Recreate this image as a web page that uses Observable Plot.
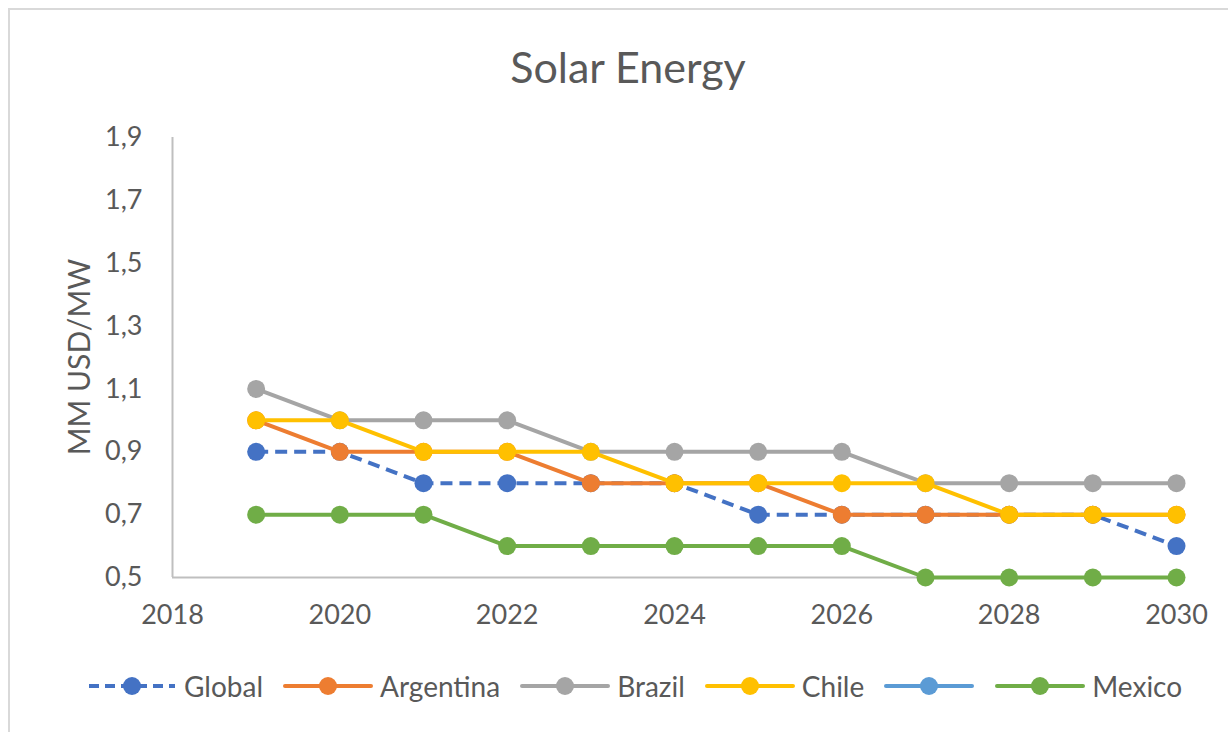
<!DOCTYPE html>
<html><head><meta charset="utf-8">
<script src="https://cdn.jsdelivr.net/npm/d3@7"></script>
<script src="https://cdn.jsdelivr.net/npm/@observablehq/plot@0.6"></script>
<style>
html,body{margin:0;padding:0;background:#fff;width:1228px;height:732px;overflow:hidden;font-family:Lato,"Open Sans",sans-serif;color:#595959;}
#frame{position:absolute;left:8px;top:8px;width:1240px;height:760px;border:2px solid #d9d9d9;box-sizing:border-box;}
#title{position:absolute;left:0;width:1256px;top:39px;text-align:center;font-size:43px;line-height:56px;color:#595959;}
#chart{position:absolute;left:0;top:0;}
#ylabel{position:absolute;left:78px;top:357px;transform:translate(-50%,-50%) rotate(-90deg);font-size:30px;white-space:nowrap;color:#595959;}
#legend{position:absolute;left:86px;top:668px;height:36px;display:flex;align-items:center;font-size:28px;color:#595959;}
#legend .item{display:flex;align-items:center;margin-right:19px;}
#legend .item span{margin-left:6px;}
</style></head><body>
<div id="frame"></div>
<div id="title">Solar Energy</div>
<div id="chart"></div>
<div id="ylabel">MM USD/MW</div>
<div id="legend"></div>
<script>
const years = [2019, 2020, 2021, 2022, 2023, 2024, 2025, 2026, 2027, 2028, 2029, 2030];
const seriesNames = ["Global", "Argentina", "Brazil", "Chile", "", "Mexico"];
const seriesColors = ["#4472C4", "#ED7D31", "#A5A5A5", "#FFC000", "#5B9BD5", "#70AD47"];
const globalValues    = [0.9, 0.9, 0.8, 0.8, 0.8, 0.8, 0.7, 0.7, 0.7, 0.7, 0.7, 0.6];
const argentinaValues = [1.0, 0.9, 0.9, 0.9, 0.8, 0.8, 0.8, 0.7, 0.7, 0.7, 0.7, 0.7];
const brazilValues    = [1.1, 1.0, 1.0, 1.0, 0.9, 0.9, 0.9, 0.9, 0.8, 0.8, 0.8, 0.8];
const chileValues     = [1.0, 1.0, 0.9, 0.9, 0.9, 0.8, 0.8, 0.8, 0.8, 0.7, 0.7, 0.7];
const emptyValues     = [];
const mexicoValues    = [0.7, 0.7, 0.7, 0.6, 0.6, 0.6, 0.6, 0.6, 0.5, 0.5, 0.5, 0.5];
const xTicks = [2018, 2020, 2022, 2024, 2026, 2028, 2030];
const yTicks = [0.5, 0.7, 0.9, 1.1, 1.3, 1.5, 1.7, 1.9];

const allValues = [globalValues, argentinaValues, brazilValues, chileValues, emptyValues, mexicoValues];
const rows = [];
seriesNames.forEach((s, i) => {
  allValues[i].forEach((v, j) => rows.push({series: s, idx: i, year: years[j], value: v}));
});

const W = 1228, H = 640;
const marks = [
  Plot.ruleX([2018], {y1: 0.5, y2: 1.9, stroke: "#bfbfbf", strokeWidth: 2}),
  Plot.ruleY([0.5], {x1: 2018, x2: 2030, stroke: "#bfbfbf", strokeWidth: 2}),
  Plot.axisX({ticks: xTicks, tickSize: 0, tickPadding: 27, tickFormat: d => String(d), fontSize: 27, fill: "#595959", label: null}),
  Plot.axisY({ticks: yTicks, tickSize: 0, tickPadding: 30, tickFormat: d => d3.format(".1f")(d).replace(".", ","), fontSize: 27, fill: "#595959", label: null})
];
seriesNames.forEach((s, i) => {
  const f = d => d.idx === i;
  marks.push(Plot.line(rows, {filter: f, x: "year", y: "value", stroke: seriesColors[i], strokeWidth: 4,
    strokeDasharray: i === 0 ? "12,7" : null, strokeLinecap: i === 0 ? "butt" : "round", strokeLinejoin: "round"}));
  marks.push(Plot.dot(rows, {filter: f, x: "year", y: "value", r: 9, fill: seriesColors[i], stroke: "none"}));
});

const chart = Plot.plot({
  width: W, height: H,
  marginLeft: 172, marginRight: 52, marginTop: 137, marginBottom: H - 577,
  style: {fontFamily: "Lato, 'Open Sans', sans-serif", background: "transparent", overflow: "visible"},
  x: {domain: [2018, 2030]},
  y: {domain: [0.5, 1.9]},
  marks
});
document.getElementById("chart").appendChild(chart);

const legend = document.getElementById("legend");
seriesNames.forEach((s, i) => {
  const item = document.createElement("div");
  item.className = "item";
  const dash = i === 0 ? 'stroke-dasharray="10,6"' : '';
  const cap = i === 0 ? 'butt' : 'round';
  item.innerHTML = `<svg width="92" height="24"><line x1="3" y1="12" x2="89" y2="12" stroke="${seriesColors[i]}" stroke-width="4" stroke-linecap="${cap}" ${dash}/><circle cx="46" cy="12" r="9" fill="${seriesColors[i]}"/></svg>` + (s ? `<span>${s}</span>` : "");
  legend.appendChild(item);
});
</script>
</body></html>
